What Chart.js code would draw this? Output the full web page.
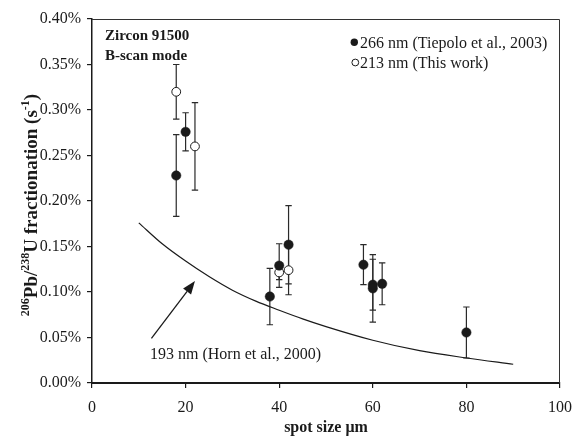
<!DOCTYPE html>
<html>
<head>
<meta charset="utf-8">
<script src="https://cdn.jsdelivr.net/npm/chart.js@4.4.1/dist/chart.umd.min.js"></script>
<style>
  html, body { margin: 0; padding: 0; background: #fff; }
  #wrap { width: 573px; height: 440px; }
</style>
</head>
<body>
<div id="wrap"><canvas id="fracChart"></canvas></div>
<script>
const serif = "'Liberation Serif', 'Times New Roman', serif";
const ink = '#1a1a1a';

// 266 nm (Tiepolo et al., 2003) - fractionation in %/s
const tiepoloSpot = [18, 20, 38, 40, 42, 58, 60, 60, 62, 80];
const tiepoloFrac = [0.228, 0.276, 0.095, 0.129, 0.152, 0.130, 0.108, 0.104, 0.109, 0.0555];
const tiepoloErr  = [0.045, 0.021, 0.031, 0.024, 0.043, 0.022, 0.028, 0.037, 0.023, 0.028];

// 213 nm (this work)
const thisSpot = [18, 22, 40, 42];
const thisFrac = [0.320, 0.260, 0.1215, 0.124];
const thisErr  = [0.030, 0.048, 0.008, 0.027];

// 193 nm curve (Horn et al., 2000)
const hornSpot = [10, 15, 20, 25, 30, 35, 40, 45, 50, 60, 70, 80, 90];
const hornFrac = [0.176, 0.153, 0.134, 0.117, 0.102, 0.090, 0.080, 0.0705, 0.062, 0.047, 0.0355, 0.0275, 0.0206];

const yTicks = [0, 0.05, 0.10, 0.15, 0.20, 0.25, 0.30, 0.35, 0.40];
const xTicks = [0, 20, 40, 60, 80, 100];

const pts = (xs, ys) => xs.map((v, i) => ({ x: v, y: ys[i] }));
const errorSets = [tiepoloErr, thisErr, null];

// vertical error bars with caps, under the markers
const errorBars = {
  id: 'errorBars',
  beforeDatasetsDraw(chart) {
    const { ctx, scales: { x, y } } = chart;
    ctx.save();
    ctx.strokeStyle = '#2a2a2a';
    ctx.lineWidth = 1.2;
    chart.data.datasets.forEach((ds, d) => {
      const errs = errorSets[d];
      if (!errs) return;
      ds.data.forEach((p, i) => {
        const px = x.getPixelForValue(p.x);
        const top = y.getPixelForValue(p.y + errs[i]);
        const bot = y.getPixelForValue(p.y - errs[i]);
        ctx.beginPath();
        ctx.moveTo(px, top); ctx.lineTo(px, bot);
        ctx.moveTo(px - 3.2, top); ctx.lineTo(px + 3.2, top);
        ctx.moveTo(px - 3.2, bot); ctx.lineTo(px + 3.2, bot);
        ctx.stroke();
      });
    });
    ctx.restore();
  }
};

// frame, labels, legend, arrow and the rotated y title
const decorations = {
  id: 'decorations',
  afterDraw(chart) {
    const { ctx, chartArea: a, scales: { x, y } } = chart;
    ctx.save();

    // thin top/right frame
    ctx.strokeStyle = '#333';
    ctx.lineWidth = 1;
    ctx.beginPath();
    ctx.moveTo(a.left, a.top + 0.5);
    ctx.lineTo(a.right - 0.5, a.top + 0.5);
    ctx.lineTo(a.right - 0.5, a.bottom);
    ctx.stroke();

    ctx.fillStyle = ink;
    ctx.textBaseline = 'alphabetic';
    ctx.textAlign = 'left';
    ctx.font = `bold 15px ${serif}`;
    ctx.fillText('Zircon 91500', 105, 39.5);
    ctx.fillText('B-scan mode', 105, 59.5);

    // legend
    const ds = chart.data.datasets;
    ctx.font = `16px ${serif}`;
    ctx.beginPath();
    ctx.arc(354.3, 42.3, 3.7, 0, Math.PI * 2);
    ctx.fill();
    ctx.fillText(ds[0].label, 360, 47.5);
    ctx.beginPath();
    ctx.arc(355.3, 62.5, 3.4, 0, Math.PI * 2);
    ctx.lineWidth = 1;
    ctx.strokeStyle = ink;
    ctx.stroke();
    ctx.fillText(ds[1].label, 360, 67.5);

    // curve annotation + arrow
    ctx.fillText(ds[2].label, x.getPixelForValue(12.4), y.getPixelForValue(0.026));
    const x0 = x.getPixelForValue(12.7), y0 = y.getPixelForValue(0.049);
    const x1 = x.getPixelForValue(22.0), y1 = y.getPixelForValue(0.112);
    const ang = Math.atan2(y1 - y0, x1 - x0);
    const hl = 13, hw = 5;
    const bx = x1 - hl * Math.cos(ang), by = y1 - hl * Math.sin(ang);
    ctx.lineWidth = 1.3;
    ctx.beginPath();
    ctx.moveTo(x0, y0);
    ctx.lineTo(bx, by);
    ctx.stroke();
    ctx.beginPath();
    ctx.moveTo(x1, y1);
    ctx.lineTo(bx + hw * Math.sin(ang), by - hw * Math.cos(ang));
    ctx.lineTo(bx - hw * Math.sin(ang), by + hw * Math.cos(ang));
    ctx.closePath();
    ctx.fill();

    // y title with superscripts
    const main = `bold 19px ${serif}`, sup = `bold 12px ${serif}`;
    const parts = [['206', sup, 8], ['Pb/', main, 0], ['238', sup, 8],
                   ['U fractionation (s', main, 0], ['-1', sup, 8], [')', main, 0]];
    let total = 0;
    parts.forEach(p => { ctx.font = p[1]; total += ctx.measureText(p[0]).width; });
    ctx.translate(36.5, 205);
    ctx.rotate(-Math.PI / 2);
    let cx = -total / 2;
    parts.forEach(p => {
      ctx.font = p[1];
      ctx.fillText(p[0], cx, -p[2]);
      cx += ctx.measureText(p[0]).width;
    });
    ctx.restore();
  }
};

new Chart(document.getElementById('fracChart'), {
  type: 'scatter',
  data: {
    datasets: [{
      label: '266 nm (Tiepolo et al., 2003)',
      data: pts(tiepoloSpot, tiepoloFrac),
      pointRadius: 4.7,
      pointBackgroundColor: ink,
      pointBorderColor: ink,
      pointBorderWidth: 0.5
    }, {
      label: '213 nm (This work)',
      data: pts(thisSpot, thisFrac),
      pointRadius: 4.4,
      pointBackgroundColor: '#fff',
      pointBorderColor: ink,
      pointBorderWidth: 1
    }, {
      type: 'line',
      label: '193 nm (Horn et al., 2000)',
      data: pts(hornSpot, hornFrac),
      borderColor: ink,
      borderWidth: 1.2,
      pointRadius: 0,
      cubicInterpolationMode: 'monotone',
      fill: false
    }]
  },
  options: {
    responsive: true,
    maintainAspectRatio: false,
    animation: false,
    layout: { padding: { left: 0, top: 19, right: 13, bottom: 0 } },
    plugins: { legend: { display: false }, tooltip: { enabled: false } },
    scales: {
      x: {
        type: 'linear',
        min: 0,
        max: 100,
        afterBuildTicks: s => { s.ticks = xTicks.map(v => ({ value: v })); },
        afterFit: s => { s.height = 57; s.paddingLeft = 0; s.paddingRight = 0; },
        ticks: { font: { family: serif, size: 16 }, color: ink, padding: 10, maxRotation: 0 },
        grid: { drawOnChartArea: false, drawTicks: true, tickLength: 5, color: ink, lineWidth: 1.2 },
        border: { display: true, color: ink, width: 2 },
        title: {
          display: true,
          text: 'spot size μm',
          font: { family: serif, size: 16, weight: 'bold' },
          color: ink,
          padding: { top: 0, bottom: 3 }
        }
      },
      y: {
        min: 0,
        max: 0.4,
        afterBuildTicks: s => { s.ticks = yTicks.map(v => ({ value: v })); },
        afterFit: s => { s.width = 92; s.paddingTop = 0; s.paddingBottom = 0; },
        ticks: {
          font: { family: serif, size: 16 },
          color: ink,
          padding: 6,
          callback: v => v.toFixed(2) + '%'
        },
        grid: { drawOnChartArea: false, drawTicks: true, tickLength: 5, color: ink, lineWidth: 1.2 },
        border: { display: true, color: ink, width: 1.5 }
      }
    }
  },
  plugins: [errorBars, decorations]
});
</script>
</body>
</html>
